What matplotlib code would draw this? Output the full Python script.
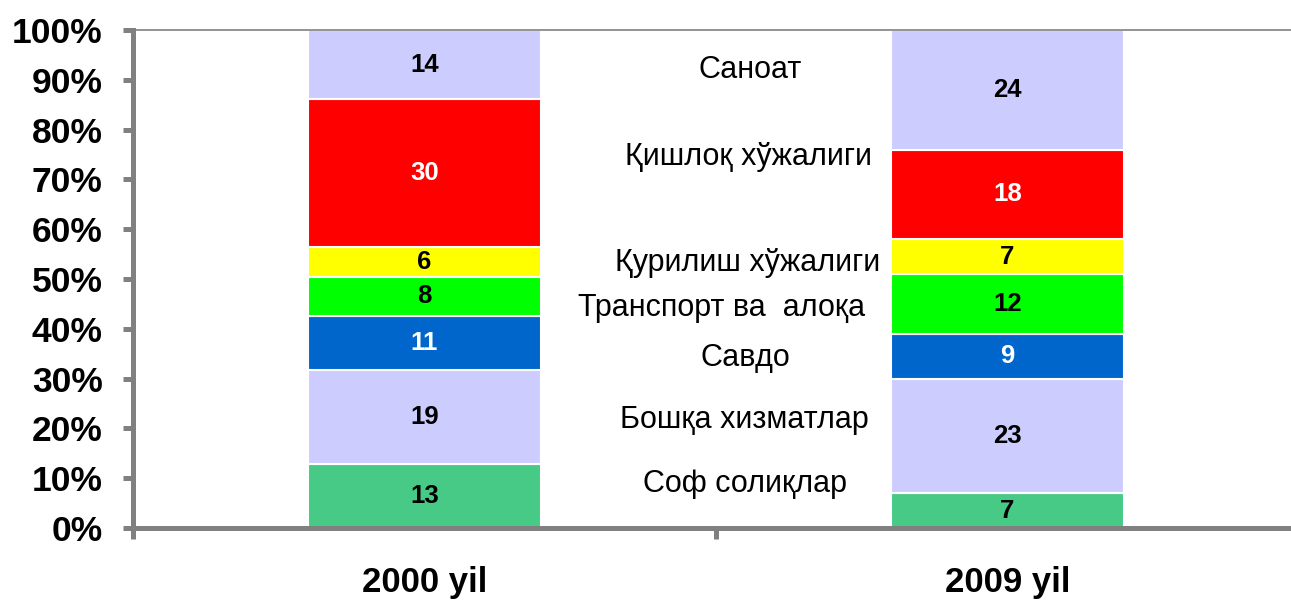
import matplotlib
matplotlib.use("Agg")
import matplotlib.pyplot as plt
import matplotlib.transforms as mtransforms
import numpy as np

plt.rcParams['font.family'] = ['Liberation Sans', 'DejaVu Sans']

# ---- data ----
years = ["2000 yil", "2009 yil"]
sectors = ["Соф солиқлар", "Бошқа хизматлар", "Савдо", "Транспорт ва  алоқа",
           "Қурилиш хўжалиги", "Қишлоқ хўжалиги", "Саноат"]
values_2000 = [13, 19, 11, 8, 6, 30, 14]
values_2009 = [7, 23, 9, 12, 7, 18, 24]
colors = ["#47CA86", "#CCCCFF", "#0066CC", "#00FF00", "#FFFF00", "#FF0000", "#CCCCFF"]
label_colors = ["black", "black", "white", "black", "black", "white", "black"]
yticks = [0, 10, 20, 30, 40, 50, 60, 70, 80, 90, 100]
ytick_labels = [f"{v}%" for v in yticks]
# position of the sector names (x in category units, y in %)
sector_label_x = [0.550, 0.548, 0.551, 0.509, 0.555, 0.555, 0.558]
sector_label_y = [8.8, 21.7, 34.1, 44.2, 53.2, 74.5, 92.0]

W, H = 1291, 601
fig = plt.figure(figsize=(W / 100, H / 100), dpi=100)
ax = fig.add_axes([133 / W, (H - 528) / H, (1299 - 133) / W, (528 - 30) / H])

data = np.array([values_2000, values_2009], dtype=float)
pct = data / data.sum(axis=1, keepdims=True) * 100
x = np.arange(len(years))
bottom = np.zeros(len(years))
for i in range(len(sectors)):
    ax.bar(x, pct[:, i], width=0.4, bottom=bottom, color=colors[i],
           edgecolor="white", linewidth=1.5, zorder=2)
    for j in range(len(years)):
        ax.text(x[j], bottom[j] + pct[j, i] / 2, str(int(data[j, i])),
                ha="center", va="center", fontsize=18.5, fontweight="bold",
                color=label_colors[i], zorder=3)
    bottom += pct[:, i]

for name, lx, ly in zip(sectors, sector_label_x, sector_label_y):
    ax.text(lx, ly, name, ha="center", va="center", fontsize=22, color="black")

ax.set_xlim(-0.5, 1.5)
ax.set_ylim(0, 100)
ax.set_yticks(yticks)
ax.set_yticklabels(ytick_labels, fontsize=25.5, fontweight="bold")
ax.tick_params(axis="y", direction="out", length=7, width=3.6, color="#808080", pad=15)
ax.set_xticks([-0.5, 0.5, 1.5])
ax.set_xticklabels([])
ax.tick_params(axis="x", direction="out", length=8, width=3.6, color="#808080")

trans = mtransforms.blended_transform_factory(ax.transData, ax.transAxes)
for j, yr in enumerate(years):
    ax.text(x[j], -0.11, yr, transform=trans, ha="center", va="center",
            fontsize=25, fontweight="bold")

for s in ["left", "bottom"]:
    ax.spines[s].set_color("#808080")
    ax.spines[s].set_linewidth(3.6)
ax.spines["top"].set_color("#808080")
ax.spines["top"].set_linewidth(1.2)
ax.spines["right"].set_visible(False)

fig.savefig("out.png", dpi=100)
